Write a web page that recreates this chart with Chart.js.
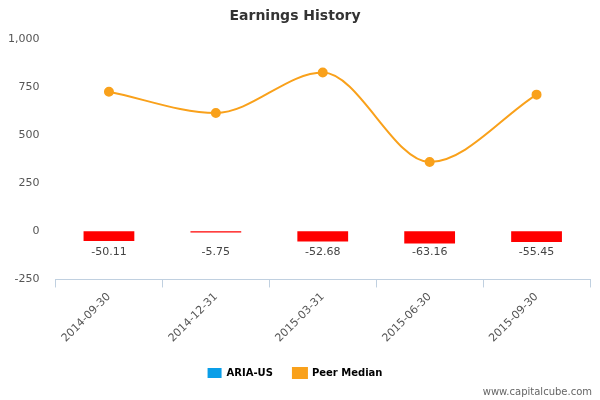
<!DOCTYPE html>
<html><head><meta charset="utf-8">
<script src="https://cdn.jsdelivr.net/npm/chart.js@4"></script>
<style>body{margin:0;background:#fff}</style>
</head><body><canvas id="c" width="600" height="400" style="width:600px;height:400px"></canvas>
<script>
const categories=["2014-09-30","2014-12-31","2015-03-31","2015-06-30","2015-09-30"];
const ariaValues=[-50.11,-5.75,-52.68,-63.16,-55.45];
const peerMedian=[725,615,825,360,710];
const yTicks=[-250,0,250,500,750,1000];
const font="'DejaVu Sans', sans-serif";
const labelPlugin={id:'lbl',afterDatasetsDraw(ch){
  const ctx=ch.ctx,meta=ch.getDatasetMeta(0);
  ctx.save();ctx.font="11px "+font;ctx.fillStyle="#444";ctx.textAlign="center";ctx.textBaseline="middle";
  meta.data.forEach((b,i)=>{ctx.fillText(ariaValues[i].toFixed(2),b.x,ch.scales.y.getPixelForValue(0)+21);});
  ctx.font="10px "+font;ctx.fillStyle="#666";ctx.textAlign="right";ctx.fillText("www.capitalcube.com",592,392);
  ctx.restore();}};
new Chart(document.getElementById('c'),{
  data:{labels:categories,datasets:[
    {type:'bar',label:'ARIA-US',data:ariaValues,backgroundColor:'#ff0000',borderWidth:0,barPercentage:0.95,categoryPercentage:0.5,order:2},
    {type:'line',label:'Peer Median',data:peerMedian,borderColor:'#f9a11b',backgroundColor:'#f9a11b',borderWidth:2,cubicInterpolationMode:'monotone',pointRadius:4,pointHoverRadius:4,order:1}
  ]},
  plugins:[labelPlugin],
  options:{responsive:false,animation:false,devicePixelRatio:1,
    layout:{padding:{left:0,right:10,top:0,bottom:12}},
    plugins:{
      title:{display:true,text:'Earnings History',color:'#333',font:{family:font,size:14,weight:'bold'},padding:{top:8,bottom:14}},
      legend:{position:'bottom',labels:{font:{family:font,size:10,weight:'bold'},color:'#333',boxWidth:14,boxHeight:10,padding:20,
        generateLabels:(ch)=>[
          {text:'ARIA-US',fillStyle:'#0a9ee8',strokeStyle:'#0a9ee8',lineWidth:0,datasetIndex:0},
          {text:'Peer Median',fillStyle:'#f9a11b',strokeStyle:'#f9a11b',lineWidth:2,datasetIndex:1}]}},
      tooltip:{enabled:false}},
    scales:{
      x:{grid:{display:true,drawOnChartArea:false,offset:true,color:'#c0d0e0',tickLength:8},border:{color:'#c0d0e0'},
        ticks:{color:'#555',font:{family:font,size:11},maxRotation:45,minRotation:45}},
      y:{min:-250,max:1000,afterBuildTicks:(s)=>{s.ticks=yTicks.map(v=>({value:v}));},
        grid:{display:false},border:{display:false},
        ticks:{color:'#555',font:{family:font,size:11},padding:8}}
    }}
});
</script></body></html>
